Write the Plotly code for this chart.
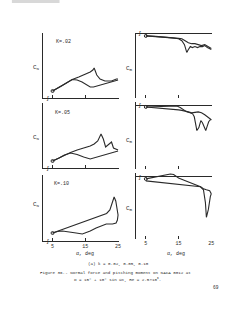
import plotly.graph_objects as go
from plotly.subplots import make_subplots

W, H = 250, 325

# ---------------- data (alpha in deg) ----------------
# k = 0.02
a_n1_up = [5, 8, 11, 13, 15, 16.5, 17.3, 17.7, 18.5, 19.5, 21, 23, 24.5, 25]
cn1_up = [0.53, 0.75, 0.99, 1.09, 1.19, 1.29, 1.37, 1.45, 1.17, 1.01, 0.93, 0.93, 1.01, 1.01]
a_n1_dn = [25, 24, 21.5, 19, 17.5, 16.5, 15.5, 14, 12.5, 11, 8, 5]
cn1_dn = [0.97, 0.93, 0.85, 0.73, 0.69, 0.69, 0.77, 0.89, 0.97, 0.99, 0.75, 0.53]
a_m1_up = [5, 8, 11, 13, 15, 16, 16.8, 17.5, 18, 18.6, 19.2, 20, 20.8, 21.5, 22.3, 23, 23.8, 24.5, 25]
cm1_up = [-0.02, -0.025, -0.03, -0.04, -0.05, -0.07, -0.11, -0.19, -0.16, -0.13, -0.14, -0.13,
          -0.14, -0.13, -0.13, -0.12, -0.14, -0.15, -0.16]
a_m1_dn = [25, 24, 23, 22, 21, 20, 19, 18, 17, 16, 15, 12, 8, 5]
cm1_dn = [-0.15, -0.13, -0.11, -0.12, -0.11, -0.10, -0.10, -0.09, -0.07, -0.05, -0.045, -0.035, -0.025, -0.02]

# k = 0.05
a_n2_up = [5, 7, 8.6, 10.5, 12.5, 14.5, 16.5, 17.7, 18.8, 19.8, 20.5, 21.2, 22.2, 23, 23.6, 24.3, 25]
cn2_up = [0.53, 0.65, 0.77, 0.87, 0.97, 1.05, 1.13, 1.21, 1.33, 1.61, 1.41, 1.09, 1.21, 1.29, 1.05, 1.01, 0.97]
a_n2_dn = [25, 23.5, 22, 20.5, 18.3, 16.5, 14.5, 12.5, 10.5, 9, 8.6, 7, 5]
cn2_dn = [0.93, 0.87, 0.81, 0.77, 0.69, 0.61, 0.69, 0.79, 0.85, 0.81, 0.77, 0.65, 0.53]
a_m2_up = [5, 8, 11, 13, 14.5, 15.5, 16.5, 17.5, 18.5, 19.3, 19.8, 20.2, 20.6, 21.2, 21.8, 22.3,
           22.8, 23.3, 23.7, 24.2, 24.7, 25]
cm2_up = [-0.01, -0.005, 0.0, 0.005, 0.0, -0.015, -0.04, -0.06, -0.07, -0.08, -0.11, -0.18, -0.25,
          -0.22, -0.15, -0.17, -0.22, -0.25, -0.21, -0.16, -0.14, -0.14]
a_m2_dn = [25, 24, 23, 22, 21, 20, 19, 18, 17, 16, 15, 13, 11, 9, 7, 5]
cm2_dn = [-0.14, -0.11, -0.09, -0.07, -0.06, -0.065, -0.07, -0.06, -0.05, -0.045, -0.04, -0.035,
          -0.03, -0.025, -0.02, -0.01]

# k = 0.10
a_n3_up = [5, 8, 11, 14, 17, 20, 21.5, 22.5, 23.2, 23.8, 24.3, 24.7, 25]
cn3_up = [0.57, 0.71, 0.85, 0.99, 1.13, 1.27, 1.35, 1.49, 1.77, 2.01, 1.85, 1.53, 1.29]
a_n3_dn = [25, 24.8, 24.4, 23.3, 21.4, 19.8, 18.3, 16.5, 14.1, 12.2, 10.3, 8, 6.5, 5]
cn3_dn = [1.29, 1.09, 0.97, 0.93, 0.93, 0.85, 0.77, 0.65, 0.53, 0.57, 0.61, 0.65, 0.63, 0.57]
a_m3_up = [5, 7, 9, 11, 12.5, 13.5, 15, 16.5, 18.6, 20, 21.7, 22.6, 23.2, 23.5, 24.1, 24.7, 25]
cm3_up = [-0.02, -0.005, 0.01, 0.02, 0.03, 0.025, -0.01, -0.03, -0.06, -0.08, -0.10, -0.13,
          -0.26, -0.41, -0.33, -0.20, -0.17]
a_m3_dn = [25, 24.5, 23.5, 22.6, 21.7, 19, 16, 13, 10, 7, 5]
cm3_dn = [-0.17, -0.14, -0.13, -0.12, -0.10, -0.09, -0.075, -0.065, -0.055, -0.045, -0.04]

k_labels = ["K=.02", "K=.05", "K=.10"]
x_ticks = [5, 15, 25]
x_ticklabels = ["5", "15", "25"]

cn_sets = [(a_n1_up, cn1_up, a_n1_dn, cn1_dn), (a_n2_up, cn2_up, a_n2_dn, cn2_dn),
           (a_n3_up, cn3_up, a_n3_dn, cn3_dn)]
cm_sets = [(a_m1_up, cm1_up, a_m1_dn, cm1_dn), (a_m2_up, cm2_up, a_m2_dn, cm2_dn),
           (a_m3_up, cm3_up, a_m3_dn, cm3_dn)]

# ---------------- styling / layout ----------------
INK = "#2a2a2a"
FONT = "Liberation Mono"

def px_x(x):
    return x / W

def px_y(y):
    return 1 - y / H

fig = make_subplots(rows=3, cols=2)

left_dom = [(33, 98), (103, 168), (175, 241)]
right_dom = [(33, 98), (102, 169), (173, 239)]
left_yr = [[0.25, 2.85], [0.25, 2.85], [0.25, 2.89]]
right_yr = [[-0.66, 0.01], [-0.64, 0.04], [-0.63, 0.04]]
xr = [1.97, 25.3]

for r in range(3):
    au, vu, ad, vd = cn_sets[r]
    for xs, ys in ((au, vu), (ad, vd)):
        fig.add_trace(go.Scatter(x=xs, y=ys, mode="lines", line=dict(color=INK, width=1.1),
                                 showlegend=False, hoverinfo="skip"), row=r + 1, col=1)
    fig.add_trace(go.Scatter(x=[au[0]], y=[vu[0]], mode="markers",
                             marker=dict(symbol="circle-open", size=3, color=INK, line=dict(width=1)),
                             showlegend=False, hoverinfo="skip"), row=r + 1, col=1)
    au, vu, ad, vd = cm_sets[r]
    for xs, ys in ((au, vu), (ad, vd)):
        fig.add_trace(go.Scatter(x=xs, y=ys, mode="lines", line=dict(color=INK, width=1.1),
                                 showlegend=False, hoverinfo="skip"), row=r + 1, col=2)
    fig.add_trace(go.Scatter(x=[au[0]], y=[vu[0]], mode="markers",
                             marker=dict(symbol="circle-open", size=3, color=INK, line=dict(width=1)),
                             showlegend=False, hoverinfo="skip"), row=r + 1, col=2)

lay = {}
for r in range(3):
    li = 2 * r + 1
    ri = 2 * r + 2
    lname = "" if li == 1 else str(li)
    rname = str(ri)
    last = r == 2
    tfont = dict(family=FONT, size=5, color=INK)
    lay["xaxis" + lname] = dict(domain=[px_x(43), px_x(120)], range=xr, showgrid=False, zeroline=False,
                                showline=True, linecolor=INK, linewidth=1, ticks="inside", ticklen=3,
                                tickcolor=INK, tickvals=x_ticks, ticktext=x_ticklabels,
                                showticklabels=last, tickfont=tfont)
    lay["yaxis" + lname] = dict(domain=[px_y(left_dom[r][1]), px_y(left_dom[r][0])], range=left_yr[r],
                                showgrid=False, zeroline=False, showline=True, linecolor=INK,
                                linewidth=1, showticklabels=False, ticks="")
    lay["xaxis" + rname] = dict(domain=[px_x(137), px_x(214)], range=xr, showgrid=False, zeroline=False,
                                showline=False, ticks="inside", ticklen=3, tickcolor=INK,
                                tickvals=x_ticks, ticktext=x_ticklabels, showticklabels=last,
                                tickfont=tfont)
    lay["yaxis" + rname] = dict(domain=[px_y(right_dom[r][1]), px_y(right_dom[r][0])], range=right_yr[r],
                                showgrid=False, zeroline=True, zerolinecolor=INK, zerolinewidth=1,
                                showline=True, linecolor=INK, linewidth=1, showticklabels=False, ticks="")

fig.update_layout(**lay)

ann = []
def add_text(x, y, text, size=5, xanchor="center"):
    ann.append(dict(x=px_x(x), y=px_y(y), xref="paper", yref="paper", text=text, showarrow=False,
                    font=dict(family=FONT, size=size, color=INK), xanchor=xanchor, yanchor="middle"))

k_pos = [(54, 42), (53, 113), (52, 184)]
cn_lab_y = [67, 137, 204]
cm_lab_y = [68, 140, 208]
for r in range(3):
    add_text(k_pos[r][0], k_pos[r][1], k_labels[r], size=5, xanchor="left")
    add_text(37, cn_lab_y[r], "C<sub>N</sub>", size=6)
    add_text(131, cm_lab_y[r], "C<sub>m</sub>", size=6)
    # axis-break marks
    add_text(48, left_dom[r][1], "ʃ", size=6)
    add_text(141, [34, 106, 177][r], "ʃ", size=6)

add_text(86, 254, "α, deg", size=5)
add_text(177, 254, "α, deg", size=5)
add_text(119, 264, "(a) k = 0.02, 0.05, 0.10", size=4.2)
add_text(116, 273, "Figure 36.- Normal force and pitching moment on NACA 0012 at", size=4.2)
add_text(118, 279, "α = 15° + 10° sin ωt, Re = 2.5×10<sup>6</sup>.", size=4.2)
add_text(218, 287, "69", size=4.5)

fig.update_layout(
    width=W, height=H, margin=dict(l=0, r=0, t=0, b=0),
    paper_bgcolor="white", plot_bgcolor="white",
    annotations=ann,
    shapes=[dict(type="rect", xref="paper", yref="paper", x0=px_x(12), x1=px_x(60),
                 y0=px_y(3), y1=px_y(0), fillcolor="#d8d8d8", line=dict(width=0), layer="below")],
)

fig.write_html("out.html")
